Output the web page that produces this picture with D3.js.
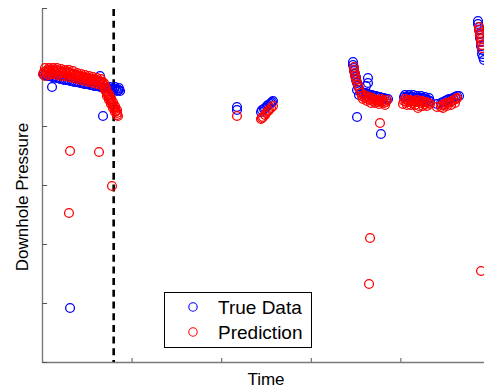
<!DOCTYPE html>
<html>
<head>
<meta charset="utf-8">
<script src="https://cdn.jsdelivr.net/npm/d3@7/dist/d3.min.js"></script>
<style>
  html, body { margin: 0; padding: 0; background: #fff; }
  svg { display: block; }
  text { font-family: "Liberation Sans", Arial, Helvetica, sans-serif; fill: #000; }
</style>
</head>
<body>
<svg id="chart" width="484" height="388"></svg>
<script>
// Measured downhole pressure [time, pressure]
const trueData = [
  // well section 1 (training window)
  [0.22,48.64],[0.45,48.64],[0.67,48.47],[0.89,48.47],[1.12,48.31],[1.34,48.31],[1.56,48.14],[1.79,48.14],
  [2.01,47.97],[2.23,47.97],[2.46,47.80],[2.68,47.80],[2.90,47.80],[3.13,47.63],[3.35,47.63],[3.57,47.46],
  [3.79,47.46],[4.02,47.46],[4.24,47.29],[4.46,47.29],[4.69,47.12],[4.91,47.12],[5.13,47.12],[5.36,46.95],
  [5.58,46.95],[5.80,46.78],[6.03,46.78],[6.25,46.78],[6.47,46.61],[6.70,46.61],[6.92,46.44],[7.14,46.44],
  [7.37,46.44],[7.59,46.27],[7.81,46.27],[8.04,46.27],[8.26,46.27],[8.48,46.10],[8.59,46.10],
  [7.59,46.61],[7.92,45.93],[8.15,46.61],[8.37,45.93],[8.59,46.44],[8.71,45.93],
  [1.12,46.61],[6.47,48.47],[6.81,41.69],[3.13,9.15],
  // section 2
  [21.76,43.22],[21.76,42.71],
  [24.44,42.37],[24.55,42.71],[24.78,42.88],[24.89,43.05],[25.11,43.39],[25.22,43.56],[25.45,43.73],
  [25.56,43.90],[25.67,44.07],[25.78,44.24],
  // section 3
  [34.71,50.85],[34.71,50.34],[34.82,49.83],[34.82,49.32],[34.93,48.81],[35.04,48.31],[35.04,47.80],
  [35.16,47.29],[35.27,46.78],[35.16,46.10],[36.38,48.14],[36.38,47.29],[36.16,46.78],[35.38,45.25],
  [35.16,41.53],[37.83,38.64],
  [35.71,45.76],[35.94,45.59],[36.16,45.59],[36.38,45.42],[36.61,45.25],[36.83,45.25],[37.05,45.08],
  [37.28,45.08],[37.50,44.92],[37.72,44.92],[37.95,44.75],[38.17,44.75],[38.39,44.58],[38.62,44.58],
  // section 4
  [40.40,44.92],[40.63,44.92],[40.85,44.92],[41.07,44.92],[41.29,44.92],[41.52,44.75],[41.74,44.75],
  [41.96,44.75],[42.19,44.75],[42.41,44.75],[42.63,44.58],[42.86,44.58],[43.08,44.41],[43.30,44.24],
  [40.51,45.25],[40.96,45.25],[41.41,45.25],[41.85,45.08],[42.30,45.08],[42.75,44.92],[43.19,44.75],
  [44.08,43.73],
  [44.53,43.90],[44.75,44.07],[44.98,44.24],[45.20,44.41],[45.42,44.58],[45.65,44.58],[45.87,44.75],
  [46.09,44.92],[46.32,45.08],[46.54,45.08],
  // section 5
  [48.66,57.80],[48.66,57.29],[48.77,56.78],[48.77,56.27],[48.88,55.59],[48.88,54.92],[49.00,54.24],
  [49.00,53.56],[49.11,52.88],[49.11,52.20],[49.22,51.69],[49.33,51.19]
];

// Model prediction [time, pressure]
const predData = [
  // section 1
  [0.11,48.81],[0.22,49.15],[0.45,49.32],[0.56,48.98],[0.67,49.49],[0.89,49.32],[1.00,49.15],[1.12,49.49],
  [1.34,49.32],[1.45,49.15],[1.56,49.49],[1.79,49.32],[1.90,48.98],[2.01,49.32],[2.23,49.15],[2.34,48.98],
  [2.46,49.15],[2.68,48.98],[2.79,48.81],[2.90,49.15],[3.13,48.98],[3.24,48.64],[3.35,48.81],[3.57,48.81],
  [3.68,48.47],[3.79,48.64],[4.02,48.47],[4.13,48.31],[4.24,48.47],[4.46,48.31],[4.58,48.14],[4.69,48.31],
  [4.91,48.14],[5.02,47.97],[5.13,48.14],[5.36,47.97],[5.47,47.80],[5.58,47.97],[5.80,47.80],[5.92,47.63],
  [6.03,47.80],[6.25,47.63],[6.36,47.46],[6.47,47.63],[6.70,47.46],[6.81,47.12],[6.92,47.29],[7.03,46.78],
  [0.33,49.83],[0.33,48.47],[0.78,49.83],[0.78,48.64],[1.23,49.83],[1.23,48.81],[1.67,49.83],[1.67,48.64],
  [2.12,49.66],[2.12,48.47],[2.57,49.49],[2.57,48.47],[3.01,49.49],[3.01,48.31],[3.46,49.32],[3.46,48.14],
  [3.91,48.98],[3.91,47.97],[4.35,48.81],[4.35,47.80],[4.80,48.64],[4.80,47.63],[5.25,48.47],[5.25,47.46],
  [5.69,48.31],[5.69,47.29],[6.14,48.14],[6.14,47.12],[6.58,47.97],[6.58,46.95],
  [7.14,46.44],[7.14,45.93],[7.25,45.59],[7.37,45.25],[7.48,44.92],[7.59,44.58],[7.70,44.24],[7.81,43.90],
  [7.92,43.56],[8.04,43.22],[8.15,42.88],[8.26,42.54],[8.37,42.20],[8.37,41.86],
  [7.03,46.10],[7.25,45.08],[7.48,44.41],[7.70,43.73],[7.92,43.05],[8.15,42.37],
  [7.48,45.42],[7.70,44.75],[7.92,44.07],[8.15,43.39],[8.37,42.71],[8.48,41.69],
  [3.13,35.76],[6.36,35.59],[7.81,29.83],[3.01,25.25],
  // section 2
  [21.76,41.69],
  [24.44,41.19],[24.55,41.36],[24.67,41.53],[24.89,41.86],[25.00,42.20],[25.22,42.54],[25.33,42.71],
  [25.56,43.05],[25.78,43.39],
  // section 3
  [34.82,50.00],[34.82,49.49],[34.93,48.98],[34.93,48.47],[35.04,47.97],[35.16,47.46],[35.27,46.95],
  [35.38,46.44],[37.72,40.51],[36.61,21.02],[36.50,13.22],
  [35.60,45.59],[35.71,45.08],[35.94,45.25],[36.05,44.75],[36.16,45.08],[36.38,44.58],[36.50,44.92],
  [36.61,44.41],[36.83,44.75],[36.94,44.24],[37.05,44.58],[37.28,44.24],[37.39,44.41],[37.50,44.07],
  [37.72,44.24],[37.95,44.07],[38.06,44.24],[38.17,43.90],[38.39,44.07],
  [35.83,44.58],[36.27,44.24],[36.72,43.90],[37.17,43.90],[37.61,43.73],[38.28,43.56],[37.83,44.58],[38.50,44.41],
  // section 4
  [40.40,44.24],[40.51,44.58],[40.63,44.07],[40.85,44.41],[40.96,44.07],[41.07,44.41],[41.29,44.24],
  [41.41,43.90],[41.52,44.24],[41.74,44.07],[41.85,44.41],[41.96,44.07],[42.19,44.24],[42.30,43.90],
  [42.41,44.24],[42.63,44.07],[42.75,43.73],[42.86,44.07],[43.08,43.90],[43.30,43.73],[41.96,43.05],
  [40.29,43.73],[40.74,43.56],[41.18,43.56],[41.63,43.56],[42.08,43.39],[42.52,43.39],[42.97,43.39],
  [44.08,43.22],
  [44.53,43.22],[44.64,43.56],[44.87,43.56],[45.09,43.90],[45.31,43.90],[45.54,44.07],[45.76,44.24],
  [45.98,44.41],[46.21,44.58],[46.32,44.75],
  [44.75,43.05],[45.20,43.39],[45.65,43.56],[46.09,43.90],
  // section 5
  [48.77,56.78],[48.77,56.27],[48.88,55.76],[48.88,55.25],[49.00,54.75],[49.00,54.24],[49.11,53.73],
  [49.11,53.22],[49.00,15.42]
];

const xTicks = [0, 10, 20, 30, 40, 50];
const yTicks = [0, 10, 20, 30, 40, 50, 60];
const splitTime = 8.0;   // end of the training window
const legendItems = [
  { name: "True Data", color: "#0000ff" },
  { name: "Prediction", color: "#ff0000" }
];

const svg = d3.select("#chart");
const x = d3.scaleLinear().domain([0, 50]).range([42, 490]);
const y = d3.scaleLinear().domain([0, 60]).range([362, 8]);
const axisColor = "#7a7a7a";

// axes with inward ticks and no labels
const gx = svg.append("g").attr("transform", `translate(0,${y(0)})`)
  .call(d3.axisBottom(x).tickValues(xTicks).tickSizeInner(-4).tickSizeOuter(0).tickFormat(""));
const gy = svg.append("g").attr("transform", `translate(${x(0)},0)`)
  .call(d3.axisLeft(y).tickValues(yTicks).tickSizeInner(-5).tickSizeOuter(0).tickFormat(""));
[gx, gy].forEach(g => {
  g.select(".domain").attr("stroke", axisColor).attr("stroke-width", 1.4);
  g.selectAll(".tick line").attr("stroke", "#555").attr("stroke-width", 1);
});

// training / prediction split
svg.append("line")
  .attr("x1", x(splitTime)).attr("x2", x(splitTime))
  .attr("y1", y(60) + 1).attr("y2", y(0))
  .attr("stroke", "#000").attr("stroke-width", 2.6)
  .attr("stroke-dasharray", "7,4.7");

const r = 4.4;
svg.append("g").selectAll("circle").data(trueData).join("circle")
  .attr("cx", d => x(d[0])).attr("cy", d => y(d[1])).attr("r", r)
  .attr("fill", "none").attr("stroke", legendItems[0].color).attr("stroke-width", 1.3);
svg.append("g").selectAll("circle").data(predData).join("circle")
  .attr("cx", d => x(d[0])).attr("cy", d => y(d[1])).attr("r", r)
  .attr("fill", "none").attr("stroke", legendItems[1].color).attr("stroke-width", 1.3);

// axis titles
svg.append("text").attr("x", (x(0) + x(50)) / 2).attr("y", 385)
  .attr("text-anchor", "middle").attr("font-size", 17).text("Time");
svg.append("text").attr("transform", `translate(28,197) rotate(-90)`)
  .attr("text-anchor", "middle").attr("font-size", 17).text("Downhole Pressure");

// legend
const lg = svg.append("g").attr("transform", "translate(164.5,292.5)");
lg.append("rect").attr("width", 147).attr("height", 55)
  .attr("fill", "#fff").attr("stroke", "#000").attr("stroke-width", 1);
legendItems.forEach((d, i) => {
  const cy = 14.5 + i * 25;
  lg.append("circle").attr("cx", 28.5).attr("cy", cy).attr("r", 4.2)
    .attr("fill", "none").attr("stroke", d.color).attr("stroke-width", 1.1);
  lg.append("text").attr("x", 53.5).attr("y", cy + 7)
    .attr("font-size", 19).text(d.name);
});
</script>
</body>
</html>
